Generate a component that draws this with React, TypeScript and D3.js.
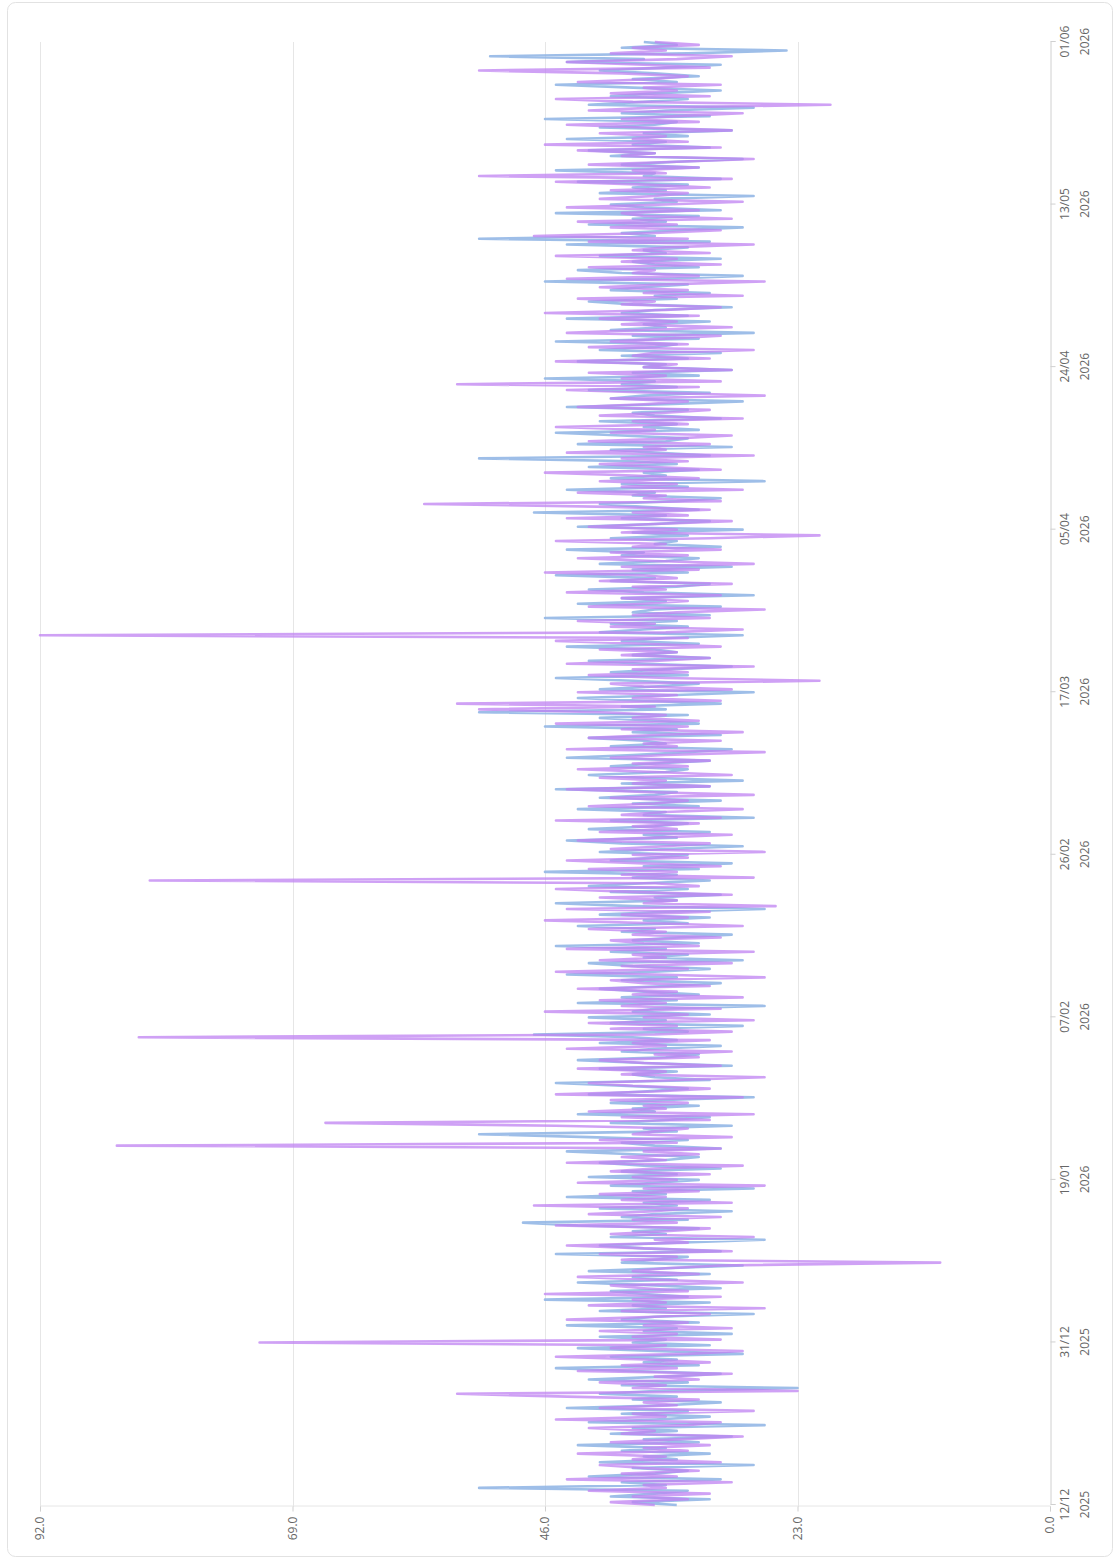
import { useEffect, useRef } from "react";
import * as d3 from "d3";

// time span of the series, points are evenly spaced between these
const startDate = "2025-12-12";
const endDate = "2026-06-01";

const dateTicks = [
  "2025-12-12", "2025-12-31", "2026-01-19", "2026-02-07", "2026-02-26",
  "2026-03-17", "2026-04-05", "2026-04-24", "2026-05-13", "2026-06-01",
];
const valueTicks = [0, 23, 46, 69, 92];

const blueValues = [
  34, 38, 31, 40, 36, 33, 52, 35, 39, 30, 42, 36, 33, 38, 27, 41, 34, 37, 31, 39,
  35, 43, 32, 37, 29, 40, 34, 38, 26, 42, 36, 31, 39, 33, 44, 35, 30, 38, 34, 41,
  36, 23, 39, 33, 42, 35, 30, 38, 45, 32, 37, 34, 40, 28, 36, 43, 31, 38, 35, 41,
  29, 37, 34, 44, 32, 39, 36, 27, 41, 35, 38, 31, 46, 33, 37, 40, 30, 36, 43, 34,
  38, 31, 42, 35, 28, 39, 36, 33, 45, 30, 37, 41, 34, 26, 40, 35, 38, 32, 43, 48,
  33, 39, 36, 29, 41, 34, 37, 31, 44, 35, 38, 27, 40, 36, 32, 42, 34, 39, 30, 37,
  41, 35, 32, 38, 44, 30, 36, 39, 33, 42, 52, 34, 37, 29, 40, 35, 31, 43, 36, 38,
  32, 40, 35, 27, 42, 37, 33, 39, 45, 31, 36, 38, 34, 41, 29, 37, 43, 35, 32, 39,
  36, 30, 41, 34, 38, 47, 33, 37, 28, 40, 35, 42, 31, 38, 36, 26, 43, 34, 39, 32,
  37, 41, 35, 30, 39, 34, 44, 36, 31, 38, 42, 28, 37, 33, 40, 35, 45, 32, 38, 34,
  29, 39, 36, 43, 33, 37, 31, 41, 35, 26, 38, 45, 34, 36, 30, 40, 33, 42, 37, 31,
  38, 34, 46, 32, 37, 29, 40, 36, 33, 41, 35, 28, 39, 44, 34, 37, 31, 42, 36, 33,
  40, 27, 37, 35, 43, 32, 38, 30, 41, 36, 34, 45, 31, 39, 28, 37, 42, 35, 33, 40,
  36, 31, 44, 38, 33, 29, 40, 35, 37, 42, 30, 38, 34, 46, 32, 36, 41, 33, 52, 35,
  39, 30, 37, 43, 34, 27, 41, 36, 32, 38, 45, 33, 40, 35, 29, 37, 42, 31, 38, 34,
  36, 44, 32, 39, 35, 28, 41, 37, 33, 40, 34, 46, 31, 38, 36, 30, 43, 35, 39, 27,
  37, 42, 34, 31, 40, 36, 45, 33, 38, 29, 41, 35, 32, 39, 37, 44, 30, 36, 34, 40,
  33, 38, 28, 43, 36, 31, 39, 35, 47, 32, 37, 41, 34, 30, 38, 36, 44, 33, 39, 26,
  40, 35, 37, 32, 42, 34, 38, 52, 31, 36, 40, 29, 43, 35, 33, 39, 45, 32, 37, 34,
  41, 30, 36, 38, 33, 44, 35, 28, 40, 37, 31, 42, 34, 39, 36, 46, 32, 38, 29, 37,
  35, 43, 33, 39, 30, 41, 36, 34, 45, 32, 38, 27, 40, 35, 37, 31, 44, 33, 39, 36,
  29, 38, 42, 34, 36, 31, 40, 37, 33, 46, 35, 28, 39, 43, 32, 36, 38, 30, 41, 35,
  37, 33, 44, 31, 52, 36, 39, 34, 28, 42, 35, 38, 32, 45, 30, 37, 40, 34, 36, 27,
  41, 35, 38, 33, 43, 30, 37, 36, 45, 32, 39, 34, 28, 40, 36, 42, 31, 38, 35, 44,
  33, 37, 29, 41, 36, 34, 46, 31, 39, 35, 27, 42, 37, 33, 40, 36, 30, 38, 45, 34,
  38, 32, 36, 41, 35, 30, 44, 37, 51, 33, 24, 39, 34, 37,
];

const purpleValues = [
  36, 40, 33, 38, 31, 42, 35, 37, 29, 44, 34, 39, 32, 37, 41, 30, 38, 35, 43, 33,
  37, 31, 40, 34, 28, 39, 36, 42, 33, 30, 45, 35, 38, 27, 41, 34, 37, 32, 44, 54,
  23, 38, 35, 41, 32, 36, 29, 43, 34, 39, 31, 37, 45, 33, 28, 40, 35, 72, 30, 38,
  34, 41, 29, 37, 33, 44, 36, 31, 39, 26, 42, 35, 38, 30, 46, 33, 37, 40, 28, 36,
  43, 32, 38, 35, 30, 10, 39, 34, 41, 29, 37, 44, 33, 36, 27, 40, 35, 31, 45, 34,
  38, 30, 42, 36, 33, 47, 29, 39, 35, 41, 32, 37, 26, 43, 34, 38, 31, 40, 36, 28,
  44, 35, 39, 32, 37, 30, 85, 34, 41, 29, 38, 36, 33, 45, 66, 31, 39, 27, 42, 35,
  37, 33, 40, 28, 45, 36, 31, 38, 42, 34, 26, 39, 35, 43, 30, 37, 41, 32, 36, 29,
  44, 35, 38, 31, 83, 36, 29, 40, 34, 42, 27, 37, 33, 46, 30, 39, 35, 41, 28, 38,
  34, 43, 31, 37, 40, 26, 36, 45, 33, 39, 29, 41, 35, 38, 27, 44, 32, 37, 40, 30,
  38, 35, 42, 28, 36, 46, 33, 39, 31, 44, 25, 37, 34, 41, 29, 38, 45, 32, 36, 82,
  27, 39, 34, 42, 30, 37, 44, 33, 38, 26, 40, 35, 31, 43, 36, 29, 41, 34, 38, 32,
  45, 30, 39, 35, 28, 42, 36, 33, 40, 27, 37, 44, 31, 38, 35, 41, 29, 36, 43, 33,
  38, 31, 40, 35, 26, 44, 34, 37, 30, 42, 36, 28, 39, 33, 45, 32, 38, 35, 41, 52,
  36, 54, 30, 38, 34, 43, 29, 37, 40, 21, 35, 42, 33, 38, 27, 44, 36, 31, 39, 34,
  41, 30, 37, 45, 33, 92, 35, 28, 40, 36, 43, 31, 38, 34, 26, 42, 37, 33, 39, 30,
  44, 35, 38, 29, 41, 34, 37, 46, 32, 39, 27, 36, 43, 33, 40, 30, 38, 35, 45, 31,
  21, 39, 34, 42, 36, 29, 44, 33, 38, 31, 40, 57, 30, 37, 35, 43, 28, 39, 34, 41,
  32, 38, 46, 30, 36, 41, 33, 39, 27, 44, 35, 37, 31, 42, 34, 29, 40, 36, 45, 33,
  38, 28, 41, 35, 31, 43, 37, 33, 40, 26, 36, 44, 32, 54, 30, 39, 35, 42, 29, 37,
  34, 45, 31, 38, 36, 27, 42, 33, 40, 35, 30, 44, 37, 29, 39, 34, 41, 32, 46, 35,
  30, 39, 36, 43, 28, 37, 33, 41, 35, 26, 44, 32, 38, 36, 42, 30, 39, 34, 45, 31,
  38, 35, 27, 42, 33, 47, 36, 30, 40, 34, 43, 29, 37, 39, 32, 44, 35, 28, 41, 36,
  33, 40, 31, 37, 45, 29, 52, 35, 38, 32, 42, 34, 27, 39, 36, 43, 30, 46, 33, 38,
  35, 41, 29, 37, 44, 32, 39, 34, 28, 42, 36, 20, 38, 45, 31, 40, 34, 37, 30, 43,
  36, 33, 39, 52, 31, 37, 44, 34, 29, 40, 35, 38, 32, 36,
];

const seriesColors = ["#8db3e4", "#bf82f2"];

const WIDTH = 1116;
const HEIGHT = 1560;

const App = () => {
  const svgRef = useRef<SVGSVGElement>(null);

  useEffect(() => {
    const svg = d3.select(svgRef.current);
    svg.selectAll("*").remove();

    svg
      .append("rect")
      .attr("x", 7.5)
      .attr("y", 2.5)
      .attr("width", 1105)
      .attr("height", 1554)
      .attr("rx", 8)
      .attr("fill", "#fff")
      .attr("stroke", "#e2e2e2");

    // the chart is laid out as a normal landscape chart, then turned 90deg ccw
    const g = svg
      .append("g")
      .attr("transform", `translate(0,${HEIGHT}) rotate(-90)`);

    const parse = d3.utcParse("%Y-%m-%d");
    const t0 = parse(startDate)!;
    const t1 = parse(endDate)!;

    const x = d3.scaleUtc().domain([t0, t1]).range([55, 1518]);
    const y = d3.scaleLinear().domain([0, 92]).range([1050, 40]);

    // grid lines
    g.append("g")
      .selectAll("line")
      .data(valueTicks.filter((v) => v > 0))
      .join("line")
      .attr("x1", 53)
      .attr("x2", 1518)
      .attr("y1", (d) => Math.round(y(d)) + 0.5)
      .attr("y2", (d) => Math.round(y(d)) + 0.5)
      .attr("stroke", "#e6e6e6");

    // value axis (ends up along the bottom)
    const yAxis = g
      .append("g")
      .attr("transform", "translate(53.5,0)")
      .call(
        d3
          .axisLeft(y)
          .tickValues(valueTicks)
          .tickSize(5)
          .tickPadding(5)
          .tickFormat(d3.format(".1f"))
      );
    yAxis.select(".domain").attr("stroke", "#e6e6e6");
    yAxis.selectAll(".tick line").attr("stroke", "#d0d0d0");
    yAxis
      .selectAll("text")
      .attr("fill", "#666")
      .style("font", "12px 'Open Sans', 'Noto Sans', sans-serif");

    // date axis (ends up along the right side)
    const xAxis = g
      .append("g")
      .attr("transform", "translate(0,1050.5)")
      .call(
        d3
          .axisBottom(x)
          .tickValues(dateTicks.map((d) => parse(d)!))
          .tickSize(5)
          .tickFormat(() => "")
      );
    xAxis.select(".domain").attr("stroke", "#d0d0d0");
    xAxis.selectAll(".tick line").attr("stroke", "#d0d0d0");
    const fmtDay = d3.utcFormat("%d/%m");
    const fmtYear = d3.utcFormat("%Y");
    xAxis.selectAll(".tick text").remove();
    xAxis
      .selectAll(".tick")
      .append("text")
      .attr("text-anchor", "middle")
      .attr("fill", "#666")
      .style("font", "12px 'Open Sans', 'Noto Sans', sans-serif")
      .call((text) => {
        text
          .append("tspan")
          .attr("x", 0)
          .attr("y", 18)
          .text((d: any) => fmtDay(d));
        text
          .append("tspan")
          .attr("x", 0)
          .attr("y", 38)
          .text((d: any) => fmtYear(d));
      });

    // series lines, points evenly spaced over the span
    const line = d3
      .line<number>()
      .x((_, i, arr) => x(new Date(+t0 + ((+t1 - +t0) * i) / (arr.length - 1))))
      .y((d) => y(d));

    [blueValues, purpleValues].forEach((values, k) => {
      g.append("path")
        .datum(values)
        .attr("fill", "none")
        .attr("stroke", seriesColors[k])
        .attr("stroke-opacity", k === 0 ? 0.85 : 0.75)
        .attr("stroke-width", 2.6)
        .attr("stroke-linejoin", "round")
        .attr("d", line);
    });

    return () => {
      svg.selectAll("*").remove();
    };
  }, []);

  return (
    <>
      <style>{"body{margin:0}"}</style>
      <svg ref={svgRef} width={WIDTH} height={HEIGHT} style={{ display: "block" }} />
    </>
  );
};

export default App;
